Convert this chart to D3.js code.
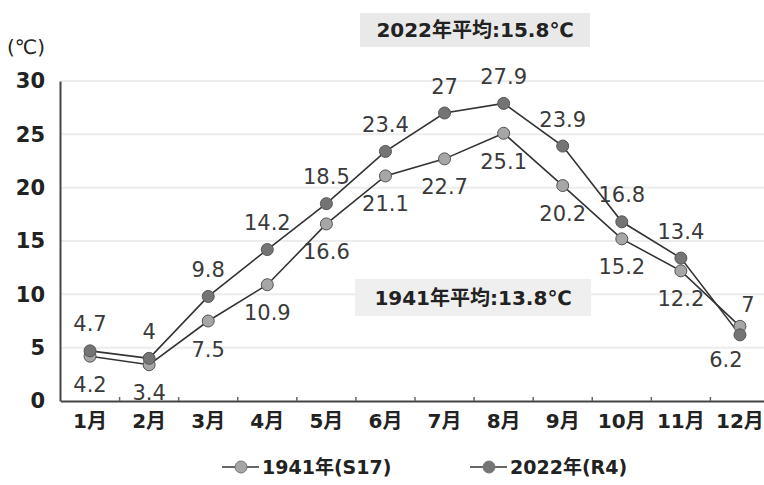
<!DOCTYPE html>
<html lang="ja">
<meta charset="utf-8">
<script src="https://d3js.org/d3.v7.min.js"></script>
<style>
  body { margin: 0; background: #fff; }
  svg { font-family: "DejaVu Sans", "Noto Sans CJK JP", sans-serif; }
</style>
<body>
<svg width="764" height="485"></svg>
<script>
    // months on the x axis
    var months = ["1月", "2月", "3月", "4月", "5月", "6月", "7月", "8月", "9月", "10月", "11月", "12月"];
    // monthly mean temperature
    var t1941 = [4.2, 3.4, 7.5, 10.9, 16.6, 21.1, 22.7, 25.1, 20.2, 15.2, 12.2, 7];
    var t2022 = [4.7, 4, 9.8, 14.2, 18.5, 23.4, 27, 27.9, 23.9, 16.8, 13.4, 6.2];
    var yTicks = [0, 5, 10, 15, 20, 25, 30];
    var seriesNames = ["1941年(S17)", "2022年(R4)"];
    var avgNotes = ["1941年平均:13.8℃", "2022年平均:15.8℃"];

    var font = "'DejaVu Sans', 'Noto Sans CJK JP', sans-serif";
    var svg = d3.select("svg");

    var x = d3.scaleBand().domain(months).range([60.5, 769.5]);
    var y = d3.scaleLinear().domain([0, 30]).range([401, 81]);
    var cx = function (i) { return x(months[i]) + x.bandwidth() / 2; };

    // faint grid lines
    svg.append("g")
        .selectAll("line")
        .data(yTicks.slice(1))
        .enter()
        .append("line")
        .attr("x1", 61).attr("x2", 764)
        .attr("y1", function (d) { return y(d); })
        .attr("y2", function (d) { return y(d); })
        .attr("stroke", "#ececec")
        .attr("stroke-width", 2);

    // average boxes
    var boxes = [
        { text: avgNotes[1], x: 360, y: 13, w: 230, h: 34, fill: "#e9e9e9" },
        { text: avgNotes[0], x: 355, y: 279, w: 236, h: 37, fill: "#efefef" }
    ];
    boxes.forEach(function (b) {
        svg.append("rect")
            .attr("x", b.x).attr("y", b.y).attr("width", b.w).attr("height", b.h)
            .attr("fill", b.fill);
        svg.append("text")
            .attr("x", b.x + b.w / 2).attr("y", b.y + b.h / 2)
            .attr("dy", "0.36em")
            .attr("text-anchor", "middle")
            .attr("font-size", 20).attr("font-weight", "bold").attr("fill", "#222")
            .text(b.text);
    });

    // y axis
    var yAxis = svg.append("g")
        .attr("transform", "translate(60,0)")
        .call(d3.axisLeft(y).tickValues(yTicks).tickSize(0).tickPadding(15));
    yAxis.select(".domain").attr("stroke", "#444").attr("stroke-width", 2);
    yAxis.selectAll("text")
        .attr("font-size", 21).attr("font-weight", "bold").attr("fill", "#222")
        .attr("font-family", font);

    // x axis
    var xAxis = svg.append("g")
        .attr("transform", "translate(0,401)")
        .call(d3.axisBottom(x).tickSize(0).tickPadding(13));
    xAxis.select(".domain").attr("stroke", "#444").attr("stroke-width", 2);
    xAxis.selectAll("text")
        .attr("font-size", 20).attr("font-weight", "bold").attr("fill", "#222")
        .attr("font-family", font);
    // small boundary ticks
    svg.append("g")
        .selectAll("line")
        .data(months.slice(1))
        .enter()
        .append("line")
        .attr("x1", function (d) { return x(d); })
        .attr("x2", function (d) { return x(d); })
        .attr("y1", 397).attr("y2", 401)
        .attr("stroke", "#666").attr("stroke-width", 1.5);

    // unit
    svg.append("text")
        .attr("x", 7).attr("y", 54)
        .attr("font-size", 20).attr("fill", "#222")
        .text("(℃)");

    var line = d3.line()
        .x(function (d, i) { return cx(i); })
        .y(function (d) { return y(d); });

    var series = [
        { values: t1941, marker: "#a6a6a6", side: [1, 1, 1, 1, 1, 1, 1, 1, 1, 1, 1, -1] },
        { values: t2022, marker: "#747474", side: [-1, -1, -1, -1, -1, -1, -1, -1, -1, -1, -1, 1] }
    ];

    series.forEach(function (s) {
        svg.append("path")
            .datum(s.values)
            .attr("d", line)
            .attr("fill", "none")
            .attr("stroke", "#333")
            .attr("stroke-width", 1.6);
    });

    series.forEach(function (s) {
        svg.append("g")
            .selectAll("circle")
            .data(s.values)
            .enter()
            .append("circle")
            .attr("cx", function (d, i) { return cx(i); })
            .attr("cy", function (d) { return y(d); })
            .attr("r", 6)
            .attr("fill", s.marker)
            .attr("stroke", "#555")
            .attr("stroke-width", 1);
    });

    // data labels
    series.forEach(function (s) {
        svg.append("g")
            .selectAll("text")
            .data(s.values)
            .enter()
            .append("text")
            .attr("x", function (d, i) {
                var dx = 0;
                if (i === 11) dx = s.side[i] < 0 ? 8 : -14;
                return cx(i) + dx;
            })
            .attr("y", function (d, i) {
                var off = s.side[i] < 0 ? -27 : 28;
                if (i === 11) off = s.side[i] < 0 ? -22 : 25;
                return y(d) + off;
            })
            .attr("dy", "0.36em")
            .attr("text-anchor", "middle")
            .attr("font-size", 21)
            .attr("fill", "#3a3a3a")
            .text(function (d) { return d; });
    });

    // legend
    var legend = svg.append("g").attr("transform", "translate(0,467)");
    [222, 470].forEach(function (lx, k) {
        var g = legend.append("g").attr("transform", "translate(" + lx + ",0)");
        g.append("line").attr("x1", 0).attr("x2", 37).attr("y1", 0).attr("y2", 0)
            .attr("stroke", "#333").attr("stroke-width", 1.6);
        g.append("circle").attr("cx", 19).attr("cy", 0).attr("r", 6)
            .attr("fill", series[k].marker).attr("stroke", "#777");
        g.append("text").attr("x", 40).attr("y", 0).attr("dy", "0.36em")
            .attr("font-size", 19).attr("font-weight", "bold").attr("fill", "#222")
            .text(seriesNames[k]);
    });
</script>
</body>
</html>
